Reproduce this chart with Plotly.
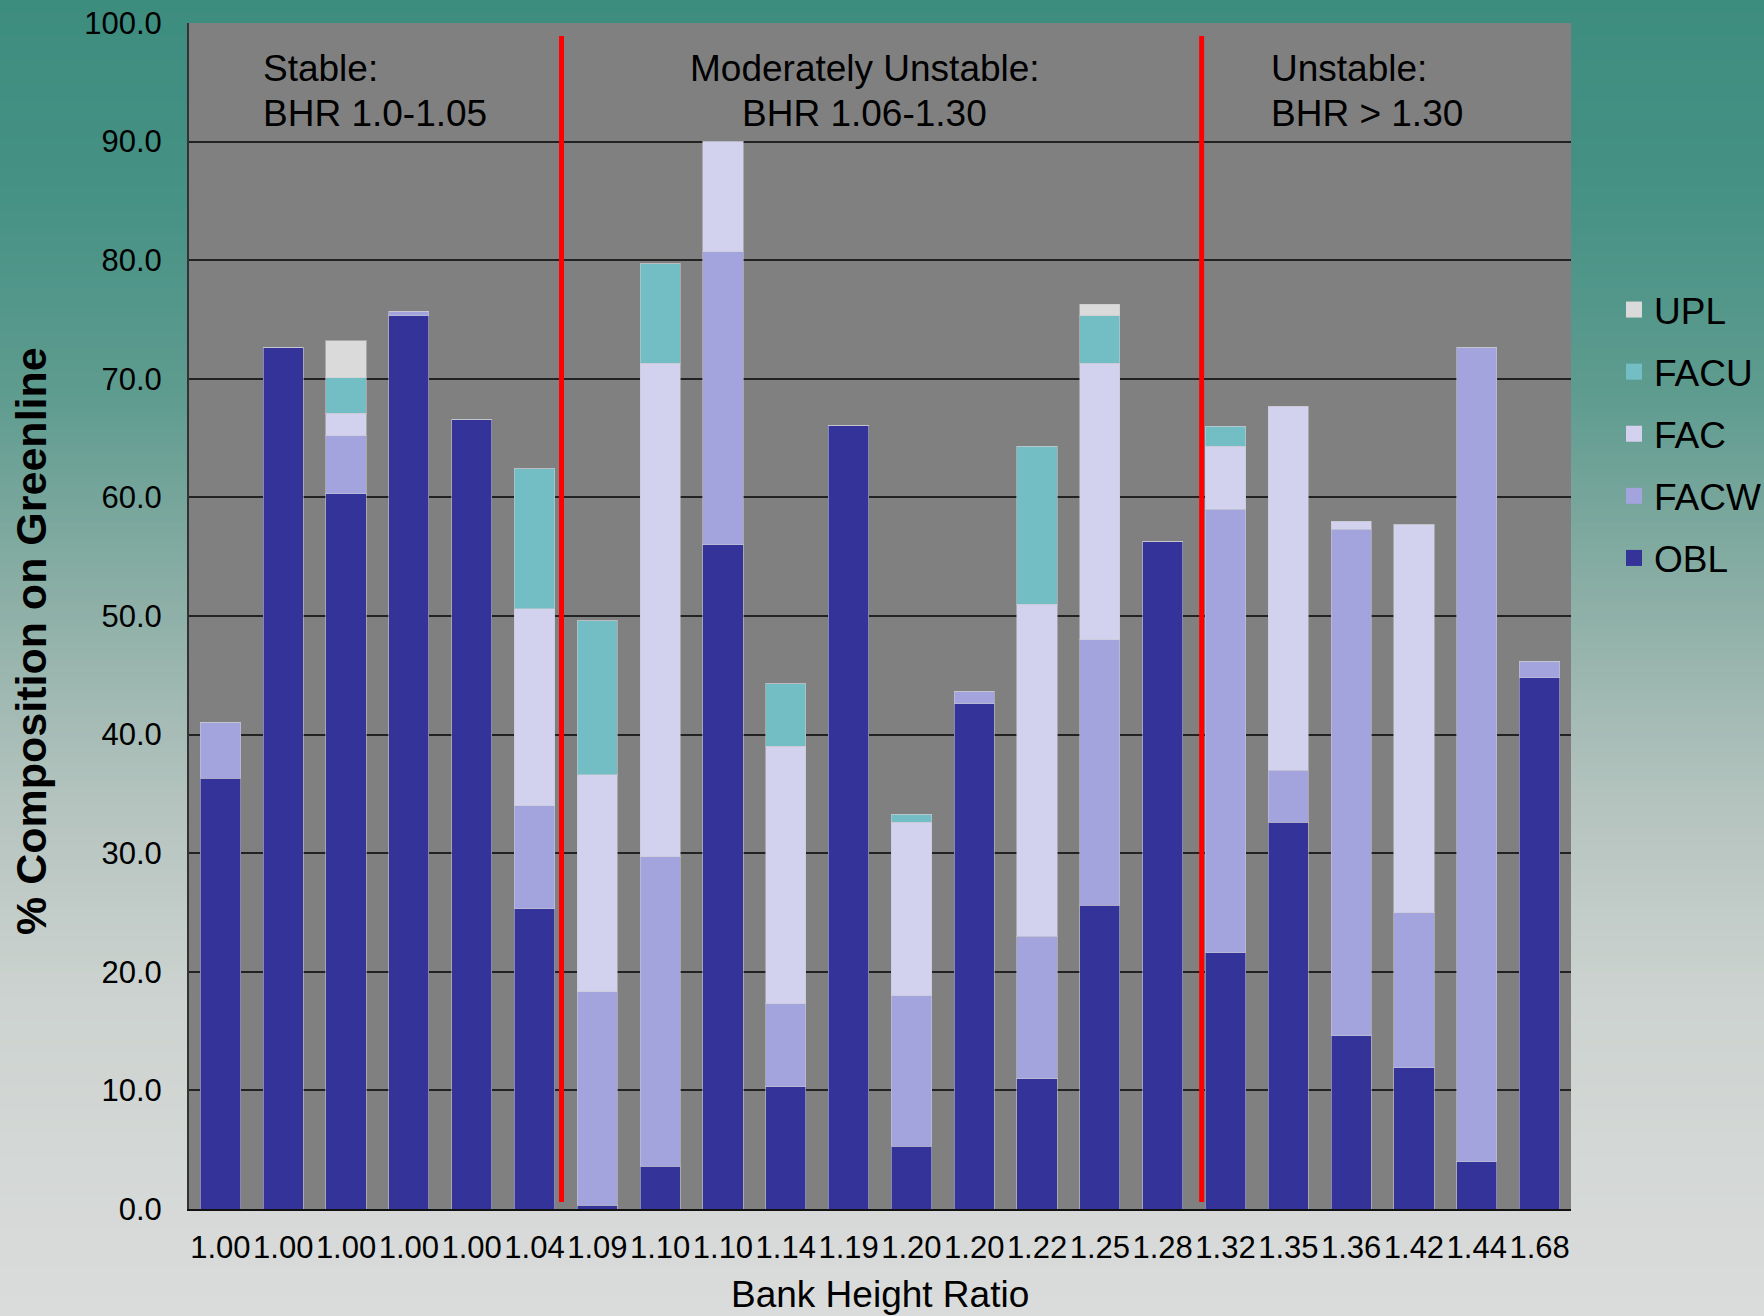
import plotly.graph_objects as go

# Bank height ratio of each surveyed reach (x axis)
bhr_labels = ["1.00", "1.00", "1.00", "1.00", "1.00", "1.04", "1.09", "1.10", "1.10", "1.14", "1.19",
              "1.20", "1.20", "1.22", "1.25", "1.28", "1.32", "1.35", "1.36", "1.42", "1.44", "1.68"]

# % composition on greenline by wetland indicator status
obl = [36.3, 72.6, 60.3, 75.3, 66.6, 25.3, 0.3, 3.6, 56.0, 10.3, 66.1,
       5.3, 42.6, 11.0, 25.6, 56.3, 21.6, 32.6, 14.6, 11.9, 4.0, 44.8]
facw = [4.7, 0.0, 4.9, 0.4, 0.0, 8.7, 18.0, 26.1, 24.7, 7.0, 0.0,
        12.7, 1.0, 12.0, 22.4, 0.0, 37.4, 4.4, 42.7, 13.1, 68.6, 1.4]
fac = [0.0, 0.0, 1.9, 0.0, 0.0, 16.6, 18.3, 41.6, 9.3, 21.7, 0.0,
       14.6, 0.0, 28.0, 23.3, 0.0, 5.3, 30.7, 0.7, 32.7, 0.0, 0.0]
facu = [0.0, 0.0, 3.0, 0.0, 0.0, 11.8, 13.0, 8.4, 0.0, 5.3, 0.0,
        0.7, 0.0, 13.3, 4.0, 0.0, 1.7, 0.0, 0.0, 0.0, 0.0, 0.0]
upl = [0.0, 0.0, 3.1, 0.0, 0.0, 0.0, 0.0, 0.0, 0.0, 0.0, 0.0,
       0.0, 0.0, 0.0, 1.0, 0.0, 0.0, 0.0, 0.0, 0.0, 0.0, 0.0]

series_names = ["OBL", "FACW", "FAC", "FACU", "UPL"]
series_values = [obl, facw, fac, facu, upl]
series_colors = ["#333399", "#A3A3DD", "#D2D2EE", "#73BEC4", "#DADADA"]

# Stability class boundaries (in category-position units) and their labels
boundaries = [5.43, 15.62]
class_labels = [
    ("Stable:", "BHR 1.0-1.05", 0.65, "left"),
    ("Moderately Unstable:", "BHR 1.06-1.30", 10.26, "center"),
    ("Unstable:", "BHR > 1.30", 16.70, "left"),
]

FONT = "Liberation Sans, Arial, sans-serif"
W, H = 1764, 1316
ML, MR, MT, MB = 189, 193, 23, 107
PW, PH = W - ML - MR, H - MT - MB

x_pos = list(range(len(bhr_labels)))

fig = go.Figure()
for name, vals, col in zip(series_names, series_values, series_colors):
    fig.add_trace(go.Bar(
        x=x_pos, y=vals, name=name, width=0.64,
        marker=dict(color=col, line=dict(color="rgba(200,200,210,0.55)", width=1)),
        showlegend=False,
    ))

# legend entries (square swatches), top to bottom
for name in ["UPL", "FACU", "FAC", "FACW", "OBL"]:
    col = series_colors[series_names.index(name)]
    fig.add_trace(go.Scatter(
        x=[None], y=[None], mode="markers", name=name, legendgroup=name,
        marker=dict(symbol="square", size=16, color=col),
    ))

# vertical background gradient: teal at the top fading to light grey
stops = [(0, (61, 141, 127)), (200, (70, 146, 133)), (400, (96, 156, 144)),
         (600, (140, 175, 166)), (800, (180, 195, 190)), (1000, (205, 211, 208)),
         (1316, (218, 220, 219))]


def grad_color(py):
    for (y0, c0), (y1, c1) in zip(stops[:-1], stops[1:]):
        if y0 <= py <= y1:
            t = (py - y0) / (y1 - y0)
            return "rgb(%d,%d,%d)" % tuple(round(a + (b - a) * t) for a, b in zip(c0, c1))
    return "rgb(%d,%d,%d)" % stops[-1][1]


def px_to_paper_x(px):
    return (px - ML) / PW


def px_to_paper_y(py):
    return (H - MB - py) / PH


shapes = []
step = 6
for py in range(0, H, step):
    shapes.append(dict(
        type="rect", xref="paper", yref="paper", layer="below",
        x0=px_to_paper_x(-2), x1=px_to_paper_x(W + 2),
        y0=px_to_paper_y(py + step + 1), y1=px_to_paper_y(py),
        fillcolor=grad_color(py + step / 2), line=dict(width=0),
    ))
# grey plotting area on top of the gradient
shapes.append(dict(type="rect", xref="x domain", yref="y domain", layer="below",
                   x0=0, x1=1, y0=0, y1=1, fillcolor="#808080", line=dict(width=0)))
# red class boundaries
for b in boundaries:
    shapes.append(dict(type="line", xref="x", yref="y", x0=b, x1=b, y0=0.6, y1=98.9,
                       line=dict(color="#FF0000", width=5), layer="above"))

annotations = []
for line1, line2, xa, anchor in class_labels:
    for txt, yv in ((line1, 96.2), (line2, 92.4)):
        annotations.append(dict(
            x=xa, y=yv, xref="x", yref="y", text=txt, showarrow=False,
            xanchor=anchor, yanchor="middle", align=anchor,
            font=dict(family=FONT, size=37, color="#000000"),
        ))

annotations.append(dict(
    x=0.5, y=px_to_paper_y(1294), xref="paper", yref="paper",
    text="Bank Height Ratio", showarrow=False, xanchor="center", yanchor="middle",
    font=dict(family=FONT, size=37, color="#000000"),
))
annotations.append(dict(
    x=px_to_paper_x(31), y=px_to_paper_y(641), xref="paper", yref="paper",
    text="<b>% Composition on Greenline</b>", showarrow=False, textangle=-90,
    xanchor="center", yanchor="middle",
    font=dict(family=FONT, size=43, color="#000000"),
))

fig.update_layout(
    width=W, height=H, autosize=False,
    margin=dict(l=ML, r=MR, t=MT, b=MB, pad=0, autoexpand=False),
    barmode="stack",
    paper_bgcolor="#3D8D7F",
    plot_bgcolor="#808080",
    font=dict(family=FONT, color="#000000"),
    shapes=shapes,
    annotations=annotations,
    legend=dict(
        xref="container", yref="container",
        x=1614 / W, xanchor="left",
        y=1 - 279 / H, yanchor="top",
        font=dict(family=FONT, size=37, color="#000000"),
        bgcolor="rgba(0,0,0,0)", borderwidth=0,
        traceorder="grouped", tracegroupgap=11,
    ),
    xaxis=dict(
        range=[-0.5, len(bhr_labels) - 0.5],
        tickmode="array", tickvals=x_pos, ticktext=bhr_labels, tickangle=0,
        tickfont=dict(family=FONT, size=31, color="#000000"),
        showgrid=False, zeroline=False,
        showline=True, linecolor="#111111", linewidth=2,
        ticks="", ticklabelstandoff=10, ticklabeloverflow="allow",
    ),
    yaxis=dict(
        range=[0, 100], tickmode="array", tickvals=list(range(0, 101, 10)),
        tickformat=".1f",
        tickfont=dict(family=FONT, size=31, color="#000000"),
        showgrid=True, gridcolor="#222222", gridwidth=1.6,
        zeroline=False, showline=True, linecolor="#333333", linewidth=2,
        ticks="", ticklabelstandoff=19, ticklabeloverflow="allow",
    ),
)

fig.write_html("out.html")
